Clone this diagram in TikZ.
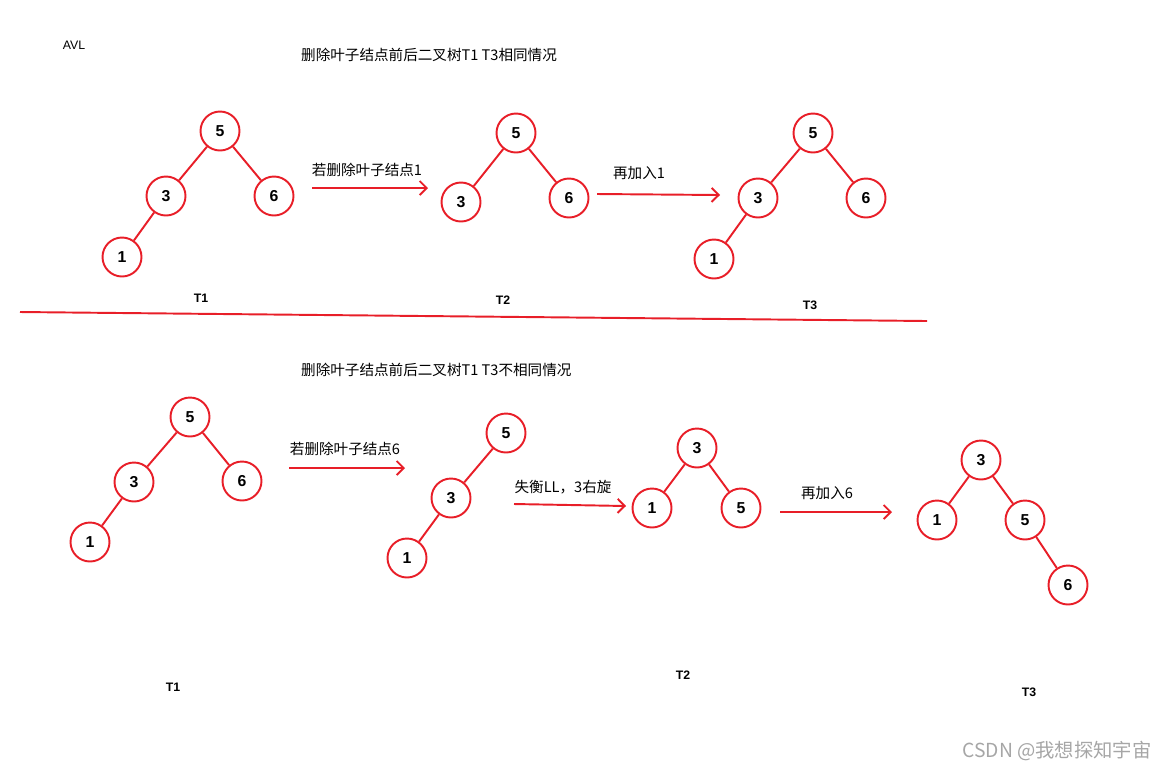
\documentclass[tikz,border=0pt]{standalone}
\usepackage{fontspec}
\setmainfont{Liberation Sans}
\newfontfamily\cjk{Noto Sans CJK SC}
\usepackage{xcolor}
\usetikzlibrary{arrows.meta}
\definecolor{nodered}{RGB}{232,30,40}

\begin{document}
\begin{tikzpicture}[x=0.02cm, y=-0.02cm,
  treenode/.style={circle, draw=nodered, line width=1.1pt, minimum size=0.78cm, inner sep=0pt, font=\fontsize{9}{10}\selectfont\bfseries},
  edge/.style={draw=nodered, line width=1.1pt},
  move/.style={draw=nodered, line width=1.1pt, -{Straight Barb[length=4pt,width=8pt]}},
  caption/.style={font=\fontsize{8.3}{9}\selectfont\cjk},
  treename/.style={font=\fontsize{7}{8}\selectfont\bfseries}]
      % 1 unit = 1 px of the 1168 x 769 sketch
      \useasboundingbox (0,0) rectangle (1168,769);
      \node[font=\fontsize{7}{8}\selectfont] (avl) at (74,45) {AVL};
      \node[caption, anchor=west] (title1) at (295,55) {删除叶子结点前后二叉树T1 T3相同情况};
      % same case, T1
      \node[treenode] (a5) at (220,131) {5};
      \node[treenode] (a3) at (166,196) {3};
      \node[treenode] (a6) at (274,196) {6};
      \node[treenode] (a1) at (122,257) {1};
      \draw[edge] (a5) -- (a3);
      \draw[edge] (a5) -- (a6);
      \draw[edge] (a3) -- (a1);
      \node[treename] (aname) at (201,298) {T1};
      \coordinate (m1s) at (312,188);
      \coordinate (m1e) at (428,188);
      \draw[move] (m1s) -- (m1e);
      \node[caption] (m1label) at (367,170) {若删除叶子结点1};
      % same case, T2
      \node[treenode] (b5) at (516,133) {5};
      \node[treenode] (b3) at (461,202) {3};
      \node[treenode] (b6) at (569,198) {6};
      \draw[edge] (b5) -- (b3);
      \draw[edge] (b5) -- (b6);
      \node[treename] (bname) at (503,300) {T2};
      \coordinate (m2s) at (597,194);
      \coordinate (m2e) at (720,195);
      \draw[move] (m2s) -- (m2e);
      \node[caption] (m2label) at (639,173) {再加入1};
      % same case, T3
      \node[treenode] (c5) at (813,133) {5};
      \node[treenode] (c3) at (758,198) {3};
      \node[treenode] (c6) at (866,198) {6};
      \node[treenode] (c1) at (714,259) {1};
      \draw[edge] (c5) -- (c3);
      \draw[edge] (c5) -- (c6);
      \draw[edge] (c3) -- (c1);
      \node[treename] (cname) at (810,305) {T3};
      % divider
      \coordinate (ruleL) at (20,312);
      \coordinate (ruleR) at (927,321);
      \draw[edge] (ruleL) -- (ruleR);
      \node[caption, anchor=west] (title2) at (295,370) {删除叶子结点前后二叉树T1 T3不相同情况};
      % different case, T1
      \node[treenode] (d5) at (190,417) {5};
      \node[treenode] (d3) at (134,482) {3};
      \node[treenode] (d6) at (242,481) {6};
      \node[treenode] (d1) at (90,542) {1};
      \draw[edge] (d5) -- (d3);
      \draw[edge] (d5) -- (d6);
      \draw[edge] (d3) -- (d1);
      \node[treename] (dname) at (173,687) {T1};
      \coordinate (m3s) at (289,468);
      \coordinate (m3e) at (405,468);
      \draw[move] (m3s) -- (m3e);
      \node[caption] (m3label) at (345,449) {若删除叶子结点6};
      % after deleting 6
      \node[treenode] (e5) at (506,433) {5};
      \node[treenode] (e3) at (451,498) {3};
      \node[treenode] (e1) at (407,558) {1};
      \draw[edge] (e5) -- (e3);
      \draw[edge] (e3) -- (e1);
      \coordinate (m4s) at (514,504);
      \coordinate (m4e) at (626,506);
      \draw[move] (m4s) -- (m4e);
      \node[caption] (m4label) at (563,487) {失衡LL，3右旋};
      % different case, T2
      \node[treenode] (f3) at (697,448) {3};
      \node[treenode] (f1) at (652,508) {1};
      \node[treenode] (f5) at (741,508) {5};
      \draw[edge] (f3) -- (f1);
      \draw[edge] (f3) -- (f5);
      \node[treename] (fname) at (683,675) {T2};
      \coordinate (m5s) at (780,512);
      \coordinate (m5e) at (892,512);
      \draw[move] (m5s) -- (m5e);
      \node[caption] (m5label) at (827,493) {再加入6};
      % different case, T3
      \node[treenode] (g3) at (981,460) {3};
      \node[treenode] (g1) at (937,520) {1};
      \node[treenode] (g5) at (1025,520) {5};
      \node[treenode] (g6) at (1068,585) {6};
      \draw[edge] (g3) -- (g1);
      \draw[edge] (g3) -- (g5);
      \draw[edge] (g5) -- (g6);
      \node[treename] (gname) at (1029,692) {T3};
      \node[font=\fontsize{11}{12}\selectfont\cjk, color=black!35] (mark) at (1057,751) {CSDN @我想探知宇宙};
    \end{tikzpicture}
\end{document}
